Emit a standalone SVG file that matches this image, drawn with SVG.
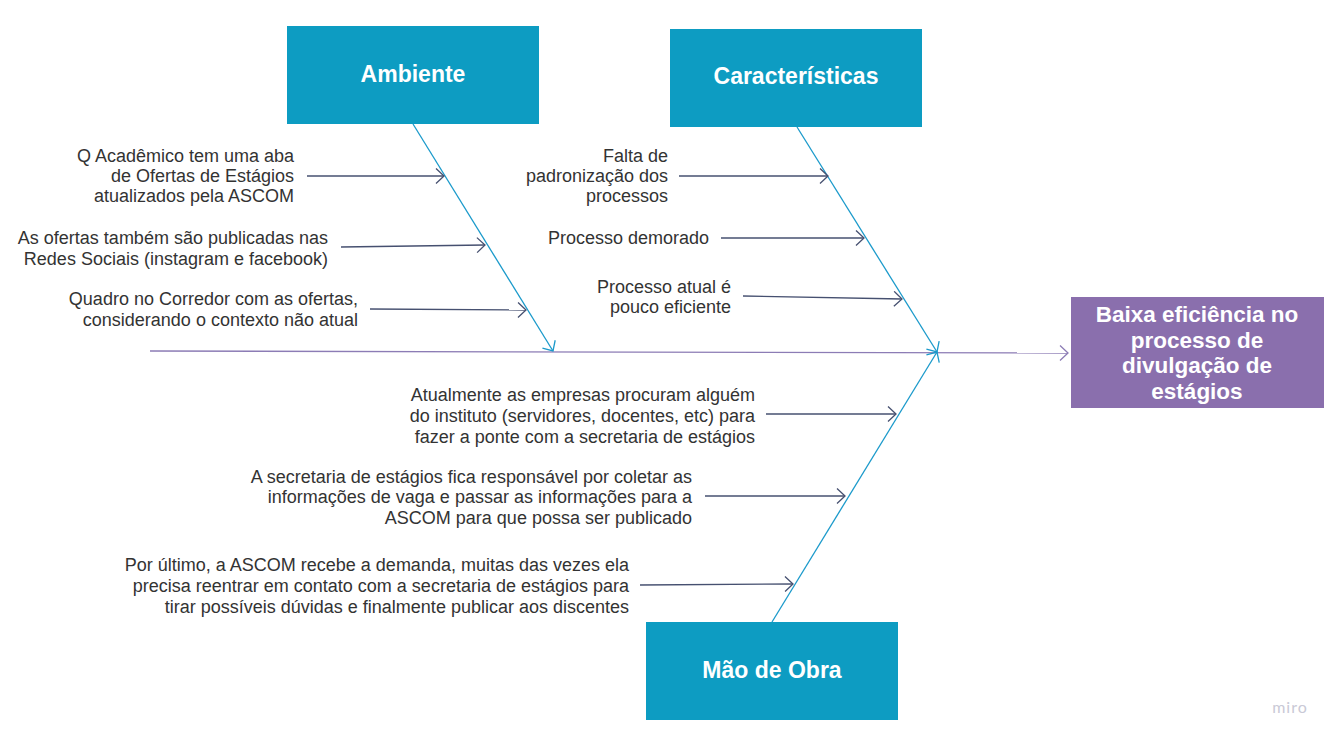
<svg xmlns="http://www.w3.org/2000/svg" width="1342" height="744" viewBox="0 0 1342 744">
<style>
.cat rect{fill:#0d9cc2}
.cat text{fill:#fff;font-family:"Liberation Sans",Arial,sans-serif;font-weight:bold;font-size:23px;text-anchor:middle}
.res rect{fill:#8a6fad}
.res text{fill:#fff;font-family:"Liberation Sans",Arial,sans-serif;font-weight:bold;font-size:22.5px;text-anchor:middle}
.lbl{fill:#333;font-family:"Liberation Sans",Arial,sans-serif;font-size:18px;text-anchor:end}
.bone{stroke:#1b9acb;stroke-width:1.3;fill:none;marker-end:url(#ab)}
.sub{stroke:#465070;stroke-width:1.3;fill:none;marker-end:url(#as)}
.spine{stroke:#8c7cb5;stroke-width:1.3;fill:none;marker-end:url(#ap)}
</style>
<defs>
<marker id="ab" markerUnits="userSpaceOnUse" markerWidth="12" markerHeight="18" refX="9" refY="8" orient="auto"><path d="M1,0.5 L9,8 L1,15.5" fill="none" stroke="#1b9acb" stroke-width="1.3"/></marker>
<marker id="as" markerUnits="userSpaceOnUse" markerWidth="12" markerHeight="18" refX="9" refY="8" orient="auto"><path d="M1,0.5 L9,8 L1,15.5" fill="none" stroke="#465070" stroke-width="1.3"/></marker>
<marker id="ap" markerUnits="userSpaceOnUse" markerWidth="12" markerHeight="18" refX="9" refY="8" orient="auto"><path d="M1,0.5 L9,8 L1,15.5" fill="none" stroke="#8c7cb5" stroke-width="1.3"/></marker>
</defs>
<rect width="1342" height="744" fill="#fff"/>
<g id="connectors">
<path class="spine" d="M150,351 L1068,353"/>
<path class="bone" d="M413,124 L553,351"/>
<path class="bone" d="M797,127 L937,352"/>
<path class="bone" d="M772,622 L937,352"/>
<path class="sub" d="M307,176 L444,176"/>
<path class="sub" d="M341,247 L485,245"/>
<path class="sub" d="M370,309 L526,310"/>
<path class="sub" d="M679,176 L828,176"/>
<path class="sub" d="M721,238 L864,238"/>
<path class="sub" d="M743,296 L902,299"/>
<path class="sub" d="M766,414 L896,414"/>
<path class="sub" d="M705,496 L845,496"/>
<path class="sub" d="M640,585 L793,584"/>
</g>
<g id="ambiente" class="cat"><rect x="287" y="26" width="252" height="98"/><text x="413" y="82">Ambiente</text></g>
<g id="caracteristicas" class="cat"><rect x="670" y="29" width="252" height="98"/><text x="796" y="84">Características</text></g>
<g id="mao-de-obra" class="cat"><rect x="646" y="622" width="252" height="98"/><text x="772" y="678">Mão de Obra</text></g>
<g id="resultado" class="res"><rect x="1071" y="297" width="253" height="111"/>
<text x="1197" y="322">Baixa eficiência no</text>
<text x="1197" y="348">processo de</text>
<text x="1197" y="373">divulgação de</text>
<text x="1197" y="399">estágios</text></g>
<g id="c1"><text class="lbl"><tspan x="294" y="162">Q Acadêmico tem uma aba</tspan><tspan x="294" y="182">de Ofertas de Estágios</tspan><tspan x="294" y="202">atualizados pela ASCOM</tspan></text></g>
<g id="c2"><text class="lbl"><tspan x="328" y="244">As ofertas também são publicadas nas</tspan><tspan x="328" y="265">Redes Sociais (instagram e facebook)</tspan></text></g>
<g id="c3"><text class="lbl"><tspan x="358" y="305">Quadro no Corredor com as ofertas,</tspan><tspan x="358" y="326">considerando o contexto não atual</tspan></text></g>
<g id="c4"><text class="lbl"><tspan x="668" y="162">Falta de</tspan><tspan x="668" y="182">padronização dos</tspan><tspan x="668" y="202">processos</tspan></text></g>
<g id="c5"><text class="lbl" x="709" y="244">Processo demorado</text></g>
<g id="c6"><text class="lbl"><tspan x="731" y="293">Processo atual é</tspan><tspan x="731" y="313">pouco eficiente</tspan></text></g>
<g id="c7"><text class="lbl"><tspan x="755" y="401">Atualmente as empresas procuram alguém</tspan><tspan x="755" y="422">do instituto (servidores, docentes, etc) para</tspan><tspan x="755" y="443">fazer a ponte com a secretaria de estágios</tspan></text></g>
<g id="c8"><text class="lbl"><tspan x="692" y="483">A secretaria de estágios fica responsável por coletar as</tspan><tspan x="692" y="503">informações de vaga e passar as informações para a</tspan><tspan x="692" y="524">ASCOM para que possa ser publicado</tspan></text></g>
<g id="c9"><text class="lbl"><tspan x="629" y="571">Por último, a ASCOM recebe a demanda, muitas das vezes ela</tspan><tspan x="629" y="592">precisa reentrar em contato com a secretaria de estágios para</tspan><tspan x="629" y="613">tirar possíveis dúvidas e finalmente publicar aos discentes</tspan></text></g>
<text x="1290" y="713" font-family="Lato,'Liberation Sans',sans-serif" font-size="16" fill="#c9c9d6" text-anchor="middle" letter-spacing="1">miro</text>
</svg>
